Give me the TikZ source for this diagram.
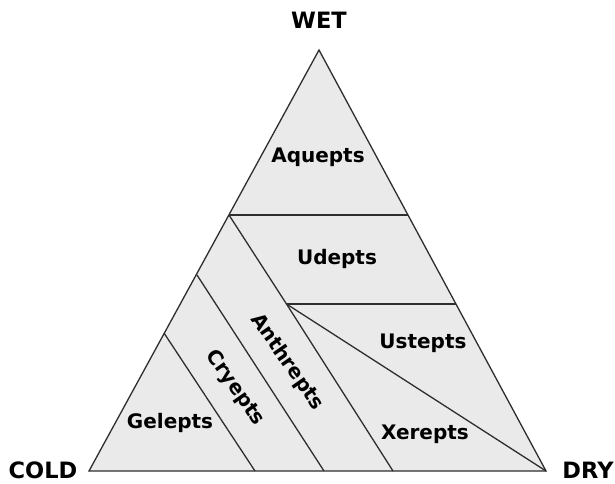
\documentclass[tikz,border=0pt]{standalone}
\usepackage{fontspec}
\setmainfont{DejaVu Sans}
\usetikzlibrary{calc}
\definecolor{soil}{HTML}{EAEAEA}
\definecolor{edge}{HTML}{2E2E2E}
\begin{document}
\begin{tikzpicture}[x=1pt,y=-1pt,
  order/.style={font=\bfseries\fontsize{20}{22}\selectfont,inner sep=0pt},
  pole/.style={font=\bfseries\fontsize{22.5}{24}\selectfont,inner sep=0pt},
  split/.style={draw=edge,line width=1.3pt}]
  \useasboundingbox (0,0) rectangle (615,483);
  \coordinate (wet) at (319,50) ;
  \coordinate (cold) at (89,471) ;
  \coordinate (dry) at (546,471) ;
  \draw[split,fill=soil,line join=miter] (cold) -- (wet) -- (dry) -- cycle ;

  % bandes horizontales
  \coordinate (h1l) at (229,215) ; \coordinate (h1r) at (408,215) ;
  \coordinate (j) at (286.5,304) ; \coordinate (h2r) at (456,304) ;
  \draw[split] (h1l) -- (h1r) ;
  \draw[split] (j) -- (h2r) ;
  \draw[split] (j) -- (dry) ;

  % bandes obliques
  \coordinate (a2) at (393,471) ;
  \coordinate (b1) at (197,275) ; \coordinate (b2) at (324,471) ;
  \coordinate (c1) at (164,333) ; \coordinate (c2) at (255,471) ;
  \draw[split] (h1l) -- (j) -- (a2) ;
  \draw[split] (b1) -- (b2) ;
  \draw[split] (c1) -- (c2) ;

  \node[pole] (nwet) at (319,20) {WET} ;
  \node[pole] (ncold) at (43,470) {COLD} ;
  \node[pole] (ndry) at (588,470) {DRY} ;

  \node[order] (aqu) at (318,157) {Aquepts} ;
  \node[order] (ude) at (337,259) {Udepts} ;
  \node[order] (ust) at (423,343) {Ustepts} ;
  \node[order] (xer) at (425,434) {Xerepts} ;
  \node[order] (gel) at (170,423) {Gelepts} ;
  \node[order,rotate=-55] (cry) at (235,388) {Cryepts} ;
  \node[order,rotate=-55] (ant) at (287,362) {Anthrepts} ;
\end{tikzpicture}
\end{document}
